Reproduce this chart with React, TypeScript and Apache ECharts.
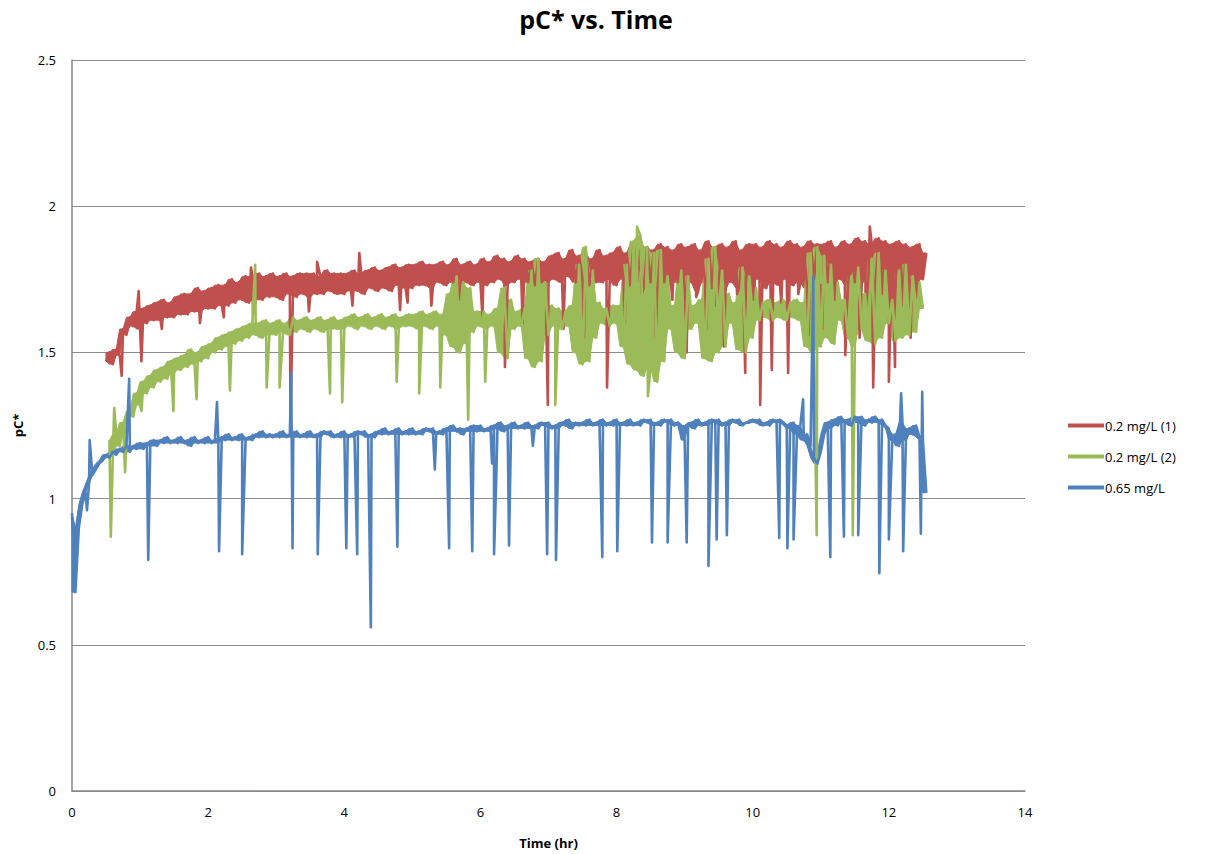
import React, { useEffect, useRef } from "react";
import * as echarts from "echarts";

const TITLE = "pC* vs. Time";
const SERIES_NAMES = ["0.2 mg/L (1)", "0.2 mg/L (2)", "0.65 mg/L"];
const COLORS = ["#C0504D", "#9BBB59", "#4F81BD"];
const DT = 0.05;

// 0.2 mg/L (1): samples every 0.05 hr starting at 0.5 hr
const RED_START = 0.5;
const RED_VALUES = [
  1.47, 1.5, 1.46, 1.51, 1.49, 1.58, 1.56, 1.62, 1.59, 1.64,
  1.58, 1.65, 1.6, 1.66, 1.61, 1.67, 1.61, 1.68, 1.62, 1.67, 1.62, 1.69, 1.63, 1.7, 1.63, 1.7, 1.64, 1.72, 1.64, 1.71,
  1.65, 1.72, 1.65, 1.73, 1.66, 1.73, 1.66, 1.75, 1.67, 1.74, 1.68, 1.76, 1.67, 1.76, 1.68, 1.77, 1.68, 1.76, 1.69, 1.77,
  1.69, 1.76, 1.68, 1.77, 1.7, 1.76, 1.69, 1.77, 1.7, 1.77, 1.69, 1.77, 1.7, 1.76, 1.7, 1.78, 1.71, 1.77, 1.7, 1.77,
  1.7, 1.77, 1.71, 1.78, 1.71, 1.77, 1.7, 1.78, 1.72, 1.79, 1.71, 1.78, 1.72, 1.79, 1.71, 1.8, 1.73, 1.79, 1.72, 1.8,
  1.72, 1.8, 1.73, 1.81, 1.73, 1.8, 1.72, 1.8, 1.74, 1.81, 1.73, 1.8, 1.74, 1.82, 1.73, 1.8, 1.74, 1.81, 1.73, 1.8,
  1.74, 1.82, 1.73, 1.81, 1.74, 1.83, 1.75, 1.82, 1.73, 1.81, 1.74, 1.83, 1.75, 1.82, 1.74, 1.81, 1.73, 1.82, 1.74, 1.81,
  1.74, 1.83, 1.75, 1.84, 1.74, 1.82, 1.76, 1.85, 1.74, 1.83, 1.75, 1.84, 1.73, 1.82, 1.74, 1.85, 1.74, 1.83, 1.75, 1.84,
  1.73, 1.86, 1.75, 1.84, 1.73, 1.87, 1.74, 1.85, 1.72, 1.86, 1.74, 1.85, 1.71, 1.87, 1.74, 1.86, 1.73, 1.85, 1.74, 1.87,
  1.72, 1.86, 1.74, 1.87, 1.71, 1.85, 1.74, 1.88, 1.72, 1.86, 1.74, 1.87, 1.71, 1.86, 1.74, 1.88, 1.72, 1.85, 1.74, 1.87,
  1.73, 1.87, 1.75, 1.86, 1.72, 1.88, 1.74, 1.87, 1.73, 1.86, 1.75, 1.88, 1.73, 1.87, 1.74, 1.86, 1.72, 1.88, 1.75, 1.87,
  1.73, 1.87, 1.74, 1.88, 1.72, 1.86, 1.75, 1.88, 1.73, 1.87, 1.74, 1.89, 1.73, 1.88, 1.75, 1.87, 1.73, 1.89, 1.74, 1.88,
  1.73, 1.87, 1.75, 1.88, 1.72, 1.87, 1.74, 1.86, 1.73, 1.87, 1.75, 1.84,
];
const RED_SPIKES = [
  [0.73, 1.42], [1.02, 1.47], [0.98, 1.71], [1.32, 1.58], [1.88, 1.6], [2.23, 1.62], [2.63, 1.79],
  [2.66, 1.63], [3.21, 1.26], [3.48, 1.64], [3.6, 1.81], [4.12, 1.66], [4.22, 1.84], [4.82, 1.645],
  [4.93, 1.67], [5.28, 1.66], [5.68, 1.68], [6.03, 1.62], [6.36, 1.45], [6.62, 1.6], [6.99, 1.32],
  [7.22, 1.58], [7.52, 1.55], [7.86, 1.38], [8.12, 1.6], [8.37, 1.7], [8.58, 1.55], [8.82, 1.68],
  [9.03, 1.5], [9.17, 1.69], [9.32, 1.58], [9.46, 1.66], [9.58, 1.52], [9.77, 1.7], [9.89, 1.43],
  [10.02, 1.68], [10.11, 1.32], [10.28, 1.44], [10.42, 1.67], [10.52, 1.43], [10.67, 1.7],
  [10.82, 1.56], [10.97, 1.66], [11.02, 1.58], [11.21, 1.68], [11.36, 1.49], [11.57, 1.55],
  [11.66, 1.65], [11.72, 1.93], [11.77, 1.38], [11.91, 1.7], [12.0, 1.4], [12.09, 1.45],
  [12.21, 1.66], [12.32, 1.55], [12.43, 1.68],
];

// 0.2 mg/L (2): samples every 0.05 hr starting at 0.55 hr
const GREEN_START = 0.55;
const GREEN_VALUES = [
  1.2, 1.15, 1.22, 1.18, 1.26, 1.22, 1.3, 1.28, 1.36,
  1.32, 1.4, 1.36, 1.42, 1.38, 1.44, 1.4, 1.45, 1.41, 1.47, 1.43, 1.48, 1.44, 1.49, 1.45, 1.51, 1.46, 1.5, 1.47, 1.52,
  1.48, 1.53, 1.5, 1.55, 1.51, 1.56, 1.52, 1.57, 1.53, 1.58, 1.54, 1.59, 1.55, 1.6, 1.56, 1.6, 1.55, 1.61, 1.56, 1.6,
  1.56, 1.61, 1.57, 1.6, 1.56, 1.62, 1.57, 1.61, 1.58, 1.62, 1.57, 1.61, 1.58, 1.62, 1.57, 1.61, 1.58, 1.62, 1.58, 1.61,
  1.58, 1.62, 1.59, 1.63, 1.58, 1.62, 1.59, 1.63, 1.58, 1.62, 1.59, 1.63, 1.58, 1.62, 1.59, 1.63, 1.58, 1.62, 1.59, 1.63,
  1.59, 1.63, 1.58, 1.64, 1.59, 1.63, 1.58, 1.64, 1.59, 1.63, 1.56, 1.7, 1.52, 1.76, 1.5, 1.74, 1.53, 1.72, 1.57, 1.64,
  1.59, 1.64, 1.58, 1.63, 1.59, 1.65, 1.5, 1.72, 1.48, 1.68, 1.58, 1.64, 1.59, 1.65, 1.48, 1.78, 1.45, 1.82, 1.47, 1.74,
  1.56, 1.66, 1.59, 1.65, 1.58, 1.64, 1.59, 1.66, 1.5, 1.8, 1.46, 1.86, 1.47, 1.78, 1.55, 1.67, 1.6, 1.65, 1.59, 1.66,
  1.6, 1.66, 1.52, 1.8, 1.46, 1.88, 1.44, 1.9, 1.42, 1.86, 1.45, 1.84, 1.4, 1.85, 1.47, 1.76, 1.58, 1.66, 1.5, 1.78,
  1.48, 1.76, 1.58, 1.66, 1.6, 1.68, 1.48, 1.82, 1.47, 1.86, 1.5, 1.78, 1.52, 1.7, 1.6, 1.67, 1.51, 1.79, 1.5, 1.76,
  1.55, 1.72, 1.61, 1.67, 1.62, 1.68, 1.61, 1.67, 1.62, 1.68, 1.61, 1.67, 1.62, 1.68, 1.61, 1.67, 1.52, 1.84, 1.5, 1.86,
  1.52, 1.83, 1.55, 1.8, 1.53, 1.74, 1.61, 1.68, 1.55, 1.76, 1.52, 1.79, 1.58, 1.7, 1.54, 1.82, 1.53, 1.84, 1.55, 1.78,
  1.6, 1.68, 1.54, 1.78, 1.55, 1.8, 1.56, 1.76, 1.57, 1.74, 1.65,
];
const GREEN_SPIKES = [
  [0.57, 0.87], [0.62, 1.31], [0.78, 1.09], [1.02, 1.3], [1.49, 1.3], [1.83, 1.34], [2.32, 1.37],
  [2.69, 1.8], [2.86, 1.38], [3.05, 1.38], [3.79, 1.36], [3.97, 1.33], [4.77, 1.4], [5.1, 1.36],
  [5.41, 1.38], [5.82, 1.27], [6.07, 1.4], [7.1, 1.32], [8.3, 1.93], [8.46, 1.35],
  [10.94, 0.875], [11.47, 0.875],
];

// 0.65 mg/L: samples every 0.05 hr starting at 0 hr
const BLUE_START = 0;
const BLUE_VALUES = [
  0.95, 0.68, 0.9, 0.98, 1.02, 1.05, 1.08, 1.1, 1.12, 1.13, 1.15, 1.14, 1.16, 1.15, 1.17, 1.16, 1.18, 1.16, 1.18, 1.17,
  1.19, 1.17, 1.19, 1.18, 1.2, 1.18, 1.2, 1.19, 1.21, 1.19, 1.2, 1.19, 1.21, 1.19, 1.2, 1.18, 1.21, 1.19, 1.2, 1.19,
  1.21, 1.19, 1.2, 1.19, 1.21, 1.2, 1.22, 1.2, 1.21, 1.2, 1.22, 1.2, 1.21, 1.2, 1.22, 1.21, 1.23, 1.21, 1.22, 1.21,
  1.22, 1.21, 1.23, 1.21, 1.22, 1.21, 1.23, 1.21, 1.22, 1.21, 1.23, 1.21, 1.22, 1.21, 1.23, 1.22, 1.23, 1.21, 1.22, 1.21,
  1.23, 1.21, 1.22, 1.21, 1.23, 1.22, 1.23, 1.21, 1.22, 1.21, 1.23, 1.22, 1.24, 1.22, 1.23, 1.22, 1.24, 1.22, 1.23, 1.22,
  1.24, 1.22, 1.23, 1.22, 1.24, 1.23, 1.24, 1.22, 1.23, 1.22, 1.24, 1.23, 1.25, 1.23, 1.24, 1.22, 1.24, 1.23, 1.25, 1.23,
  1.25, 1.23, 1.24, 1.23, 1.25, 1.24, 1.26, 1.23, 1.25, 1.24, 1.26, 1.24, 1.25, 1.24, 1.26, 1.24, 1.25, 1.24, 1.26, 1.25,
  1.26, 1.24, 1.25, 1.24, 1.26, 1.25, 1.27, 1.24, 1.26, 1.25, 1.26, 1.25, 1.27, 1.25, 1.26, 1.25, 1.27, 1.25, 1.26, 1.25,
  1.27, 1.25, 1.26, 1.25, 1.27, 1.25, 1.26, 1.25, 1.27, 1.26, 1.27, 1.25, 1.26, 1.25, 1.27, 1.26, 1.27, 1.25, 1.26, 1.25,
  1.2, 1.25, 1.26, 1.24, 1.27, 1.25, 1.26, 1.25, 1.27, 1.26, 1.27, 1.25, 1.26, 1.25, 1.27, 1.26, 1.27, 1.25, 1.26, 1.26,
  1.27, 1.26, 1.27, 1.25, 1.26, 1.25, 1.27, 1.26, 1.27, 1.26, 1.25, 1.24, 1.26, 1.22, 1.25, 1.2, 1.22, 1.18, 1.14, 1.12,
  1.16, 1.22, 1.26, 1.24, 1.27, 1.25, 1.28, 1.26, 1.27, 1.25, 1.28, 1.26, 1.28, 1.25, 1.27, 1.26, 1.28, 1.26, 1.27, 1.25,
  1.24, 1.2, 1.22, 1.18, 1.26, 1.2, 1.24, 1.22, 1.25, 1.21, 1.2, 1.02,
];
const BLUE_SPIKES = [
  [0.22, 0.96], [0.26, 1.2], [0.84, 1.41], [1.12, 0.79], [2.13, 1.33], [2.16, 0.82], [2.5, 0.81],
  [3.22, 1.43], [3.24, 0.83], [3.61, 0.81], [4.03, 0.83], [4.19, 0.81], [4.39, 0.56], [4.78, 0.835],
  [5.33, 1.1], [5.54, 0.83], [5.88, 0.82], [6.17, 1.12], [6.2, 0.81], [6.23, 1.05], [6.42, 0.84],
  [6.77, 1.18], [6.98, 0.81], [7.11, 0.79], [7.79, 0.8], [8.01, 0.82], [8.52, 0.85], [8.75, 0.85],
  [9.03, 0.85], [9.35, 0.77], [9.47, 0.86], [9.62, 0.875], [10.39, 0.865], [10.51, 0.83],
  [10.6, 0.86], [10.74, 1.34], [10.89, 1.76], [11.14, 0.8], [11.34, 0.87], [11.55, 0.875],
  [11.86, 0.745], [12.0, 0.86], [12.18, 1.36], [12.21, 0.82], [12.47, 0.88], [12.49, 1.365],
];

const X_TICKS = [0, 2, 4, 6, 8, 10, 12, 14];
const Y_TICKS = [0, 0.5, 1, 1.5, 2, 2.5];

function tAt(start: number, i: number) {
  return Math.round((start + i * DT) * 1000) / 1000;
}

function build(start: number, values: number[], spikes: number[][]) {
  const pts: number[][] = values.map((v, i) => [tAt(start, i), v]);
  spikes.forEach((s) => pts.push([s[0], s[1]]));
  pts.sort((a, b) => a[0] - b[0]);
  return pts;
}

// Envelope of the noisy band: each consecutive pair of samples gives its low and high
function envelope(start: number, values: number[]) {
  const out: number[][] = [];
  for (let i = 0; i < values.length; i += 1) {
    const a = values[i];
    const b = i + 1 < values.length ? values[i + 1] : values[i];
    out.push([tAt(start, i), Math.min(a, b), Math.max(a, b)]);
  }
  return out;
}

export default function App() {
  const ref = useRef<HTMLDivElement>(null);
  useEffect(() => {
    if (!ref.current) return;
    const chart = echarts.init(ref.current, null, { renderer: "svg" });
    const starts = [RED_START, GREEN_START, BLUE_START];
    const values = [RED_VALUES, GREEN_VALUES, BLUE_VALUES];
    const spikes = [RED_SPIKES, GREEN_SPIKES, BLUE_SPIKES];
    const font = "'Open Sans', 'Liberation Sans', sans-serif";
    const series: any[] = [];
    SERIES_NAMES.forEach((name, i) => {
      const env = envelope(starts[i], values[i]);
      series.push({
        name: name + " band",
        type: "custom",
        data: env,
        silent: true,
        encode: { x: 0, y: [1, 2] },
        renderItem: (params: any, api: any) => {
          if (params.dataIndex !== 0) return null;
          const upper = env.map((p) => api.coord([p[0], p[2]]));
          const lower = env.map((p) => api.coord([p[0], p[1]])).reverse();
          return {
            type: "polygon",
            shape: { points: upper.concat(lower) },
            style: { fill: COLORS[i], stroke: COLORS[i], lineWidth: 1 },
          };
        },
      });
      series.push({
        name,
        type: "line",
        data: build(starts[i], values[i], spikes[i]),
        showSymbol: false,
        symbol: "none",
        color: COLORS[i],
        lineStyle: { color: COLORS[i], width: 2.6, join: "round" },
        itemStyle: { color: COLORS[i] },
      });
    });
    chart.setOption({
      animation: false,
      backgroundColor: "#ffffff",
      textStyle: { fontFamily: font },
      title: {
        text: TITLE,
        left: 591,
        top: 1,
        textAlign: "center",
        textStyle: { fontFamily: font, fontSize: 25, fontWeight: "bold", color: "#000" },
      },
      legend: {
        orient: "vertical",
        left: 1063,
        top: 414,
        itemWidth: 36,
        itemHeight: 4,
        itemGap: 18,
        icon: "rect",
        data: SERIES_NAMES,
        textStyle: { fontFamily: font, fontSize: 13, color: "#000", padding: [0, 0, 0, -4] },
      },
      grid: { left: 72, right: 185, top: 60, bottom: 63, containLabel: false },
      xAxis: {
        type: "value",
        min: X_TICKS[0],
        max: X_TICKS[X_TICKS.length - 1],
        interval: 2,
        name: "Time (hr)",
        nameLocation: "middle",
        nameGap: 45,
        nameTextStyle: { fontFamily: font, fontSize: 13, fontWeight: "bold", color: "#000" },
        axisLine: { show: true, lineStyle: { color: "#868686", width: 1.5 } },
        axisTick: { show: false },
        splitLine: { show: false },
        axisLabel: { fontFamily: font, fontSize: 13, color: "#000", margin: 14 },
      },
      yAxis: {
        type: "value",
        min: Y_TICKS[0],
        max: Y_TICKS[Y_TICKS.length - 1],
        interval: 0.5,
        name: "pC*",
        nameLocation: "middle",
        nameGap: 48,
        nameRotate: 90,
        nameTextStyle: { fontFamily: font, fontSize: 13, fontWeight: "bold", color: "#000" },
        axisLine: { show: true, lineStyle: { color: "#868686", width: 1.5 } },
        axisTick: { show: false },
        splitLine: { show: true, lineStyle: { color: "#8c8c8c", width: 1 } },
        axisLabel: { fontFamily: font, fontSize: 13, color: "#000", margin: 16 },
      },
      series,
    });
    return () => chart.dispose();
  }, []);
  return (
    <div
      ref={ref}
      style={{ position: "fixed", left: 0, top: 0, width: 1210, height: 854, background: "#fff" }}
    />
  );
}
